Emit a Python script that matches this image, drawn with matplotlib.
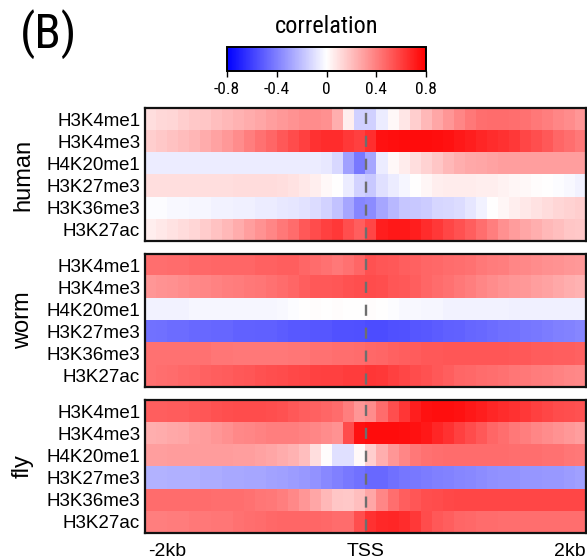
import matplotlib
matplotlib.use("Agg")
import matplotlib.pyplot as plt
import numpy as np
from matplotlib import font_manager
from matplotlib.colors import LinearSegmentedColormap, Normalize
from matplotlib.colorbar import ColorbarBase

plt.rcParams["font.family"] = ["Liberation Sans", "DejaVu Sans"]
plt.rcParams["lines.scale_dashes"] = False
available = {f.name for f in font_manager.fontManager.ttflist}
narrow = next((f for f in ["Liberation Sans Narrow", "DejaVu Sans Condensed",
                           "Roboto Condensed", "Open Sans Condensed"]
               if f in available), "Liberation Sans")

marks = ["H3K4me1", "H3K4me3", "H4K20me1", "H3K27me3", "H3K36me3", "H3K27ac"]
species = ["human", "worm", "fly"]
cbar_ticks = [-0.8, -0.4, 0, 0.4, 0.8]
cbar_ticklabels = ["-0.8", "-0.4", "0", "0.4", "0.8"]
x_labels = ["-2kb", "TSS", "2kb"]

# 40 bins from -2kb to +2kb around the TSS, one row per histone mark
human = [
    [0.10, 0.12, 0.13, 0.15, 0.17, 0.18, 0.20, 0.22, 0.24, 0.26, 0.28, 0.30, 0.32, 0.34, 0.36, 0.36, 0.35, 0.25, 0.05, -0.15,
     -0.15, -0.06, 0.02, 0.08, 0.15, 0.22, 0.28, 0.33, 0.38, 0.42, 0.45, 0.46, 0.46, 0.45, 0.44, 0.42, 0.40, 0.38, 0.36, 0.33],
    [0.15, 0.17, 0.19, 0.21, 0.23, 0.26, 0.29, 0.32, 0.36, 0.40, 0.44, 0.48, 0.52, 0.56, 0.60, 0.64, 0.66, 0.66, 0.62, 0.60,
     0.65, 0.74, 0.75, 0.76, 0.76, 0.76, 0.75, 0.74, 0.72, 0.70, 0.68, 0.66, 0.64, 0.62, 0.58, 0.55, 0.52, 0.48, 0.45, 0.42],
    [-0.06, -0.06, -0.06, -0.06, -0.06, -0.06, -0.06, -0.06, -0.06, -0.06, -0.06, -0.06, -0.06, -0.06, -0.06, -0.06, -0.07, -0.12, -0.30, -0.42,
     -0.28, -0.06, 0.02, 0.06, 0.10, 0.14, 0.18, 0.22, 0.25, 0.27, 0.28, 0.29, 0.30, 0.30, 0.30, 0.30, 0.30, 0.30, 0.30, 0.30],
    [0.10, 0.10, 0.10, 0.10, 0.10, 0.10, 0.10, 0.10, 0.11, 0.11, 0.11, 0.11, 0.10, 0.09, 0.07, 0.05, 0.02, 0.00, -0.06, -0.14,
     -0.17, -0.10, -0.06, -0.03, 0.00, 0.03, 0.05, 0.06, 0.06, 0.06, 0.05, 0.05, 0.04, 0.03, 0.02, 0.01, 0.00, -0.01, -0.02, -0.04],
    [-0.01, -0.01, -0.02, -0.02, -0.03, -0.03, -0.04, -0.04, -0.05, -0.05, -0.06, -0.06, -0.07, -0.08, -0.09, -0.11, -0.14, -0.19, -0.28, -0.38,
     -0.36, -0.28, -0.22, -0.18, -0.17, -0.16, -0.13, -0.12, -0.11, -0.08, -0.04, 0.00, 0.03, 0.05, 0.07, 0.09, 0.11, 0.13, 0.14, 0.15],
    [0.05, 0.07, 0.09, 0.11, 0.13, 0.16, 0.19, 0.22, 0.26, 0.30, 0.34, 0.38, 0.42, 0.46, 0.52, 0.56, 0.60, 0.62, 0.55, 0.50,
     0.58, 0.70, 0.72, 0.72, 0.70, 0.66, 0.62, 0.58, 0.54, 0.50, 0.45, 0.40, 0.35, 0.31, 0.28, 0.25, 0.22, 0.20, 0.18, 0.17],
]

worm = [
    [0.45, 0.45, 0.46, 0.46, 0.47, 0.47, 0.48, 0.48, 0.48, 0.48, 0.49, 0.49, 0.50, 0.50, 0.48, 0.46, 0.44, 0.42, 0.44, 0.48,
     0.54, 0.53, 0.52, 0.50, 0.49, 0.48, 0.47, 0.46, 0.45, 0.44, 0.42, 0.41, 0.40, 0.38, 0.37, 0.36, 0.35, 0.34, 0.33, 0.32],
    [0.33, 0.34, 0.35, 0.36, 0.37, 0.38, 0.39, 0.40, 0.41, 0.42, 0.43, 0.44, 0.46, 0.48, 0.50, 0.52, 0.52, 0.53, 0.54, 0.55,
     0.56, 0.55, 0.53, 0.52, 0.50, 0.48, 0.46, 0.44, 0.42, 0.40, 0.38, 0.36, 0.34, 0.33, 0.32, 0.30, 0.29, 0.27, 0.25, 0.24],
    [-0.04, -0.04, -0.04, -0.04, -0.03, -0.03, -0.03, -0.03, -0.03, -0.03, -0.03, -0.03, -0.02, -0.01, 0.00, 0.01, 0.00, 0.01, 0.00, 0.00,
     0.01, 0.00, -0.01, -0.02, -0.02, -0.03, -0.03, -0.04, -0.04, -0.04, -0.04, -0.04, -0.04, -0.05, -0.05, -0.05, -0.05, -0.05, -0.05, -0.05],
    [-0.44, -0.45, -0.46, -0.46, -0.47, -0.47, -0.48, -0.48, -0.49, -0.49, -0.50, -0.50, -0.51, -0.52, -0.52, -0.53, -0.53, -0.54, -0.54, -0.55,
     -0.56, -0.56, -0.55, -0.54, -0.53, -0.52, -0.51, -0.50, -0.49, -0.48, -0.47, -0.46, -0.45, -0.44, -0.43, -0.42, -0.41, -0.40, -0.39, -0.38],
    [0.44, 0.44, 0.44, 0.44, 0.44, 0.44, 0.43, 0.43, 0.42, 0.42, 0.42, 0.42, 0.42, 0.43, 0.43, 0.44, 0.44, 0.45, 0.45, 0.46,
     0.47, 0.48, 0.49, 0.50, 0.51, 0.52, 0.52, 0.53, 0.53, 0.53, 0.53, 0.53, 0.53, 0.52, 0.52, 0.51, 0.51, 0.50, 0.50, 0.49],
    [0.44, 0.45, 0.46, 0.47, 0.48, 0.49, 0.50, 0.51, 0.52, 0.53, 0.54, 0.55, 0.56, 0.57, 0.58, 0.59, 0.60, 0.60, 0.61, 0.61,
     0.63, 0.62, 0.60, 0.58, 0.56, 0.54, 0.52, 0.50, 0.48, 0.47, 0.46, 0.45, 0.44, 0.43, 0.42, 0.41, 0.40, 0.39, 0.38, 0.37],
]

fly = [
    [0.50, 0.50, 0.51, 0.51, 0.52, 0.53, 0.54, 0.55, 0.56, 0.56, 0.56, 0.55, 0.54, 0.52, 0.50, 0.49, 0.48, 0.46, 0.40, 0.33,
     0.36, 0.46, 0.55, 0.63, 0.70, 0.74, 0.75, 0.75, 0.74, 0.72, 0.70, 0.68, 0.66, 0.64, 0.62, 0.60, 0.58, 0.56, 0.55, 0.54],
    [0.25, 0.26, 0.27, 0.28, 0.30, 0.31, 0.33, 0.35, 0.37, 0.38, 0.39, 0.40, 0.40, 0.40, 0.39, 0.38, 0.36, 0.34, 0.56, 0.74,
     0.76, 0.76, 0.76, 0.75, 0.74, 0.72, 0.68, 0.64, 0.60, 0.56, 0.52, 0.48, 0.45, 0.42, 0.40, 0.38, 0.36, 0.34, 0.32, 0.30],
    [0.30, 0.30, 0.31, 0.31, 0.31, 0.31, 0.31, 0.31, 0.30, 0.30, 0.29, 0.28, 0.26, 0.24, 0.20, 0.10, 0.01, -0.10, -0.10, 0.02,
     0.15, 0.25, 0.33, 0.38, 0.42, 0.44, 0.45, 0.46, 0.46, 0.46, 0.46, 0.46, 0.46, 0.45, 0.45, 0.45, 0.44, 0.44, 0.43, 0.42],
    [-0.24, -0.24, -0.25, -0.25, -0.25, -0.26, -0.26, -0.27, -0.27, -0.28, -0.28, -0.29, -0.30, -0.31, -0.32, -0.34, -0.37, -0.40, -0.42, -0.44,
     -0.47, -0.47, -0.45, -0.43, -0.42, -0.41, -0.40, -0.39, -0.38, -0.37, -0.36, -0.35, -0.34, -0.34, -0.33, -0.33, -0.32, -0.32, -0.31, -0.30],
    [0.46, 0.46, 0.46, 0.46, 0.46, 0.46, 0.45, 0.45, 0.45, 0.44, 0.43, 0.42, 0.40, 0.37, 0.33, 0.28, 0.22, 0.18, 0.17, 0.20,
     0.28, 0.38, 0.45, 0.50, 0.53, 0.55, 0.56, 0.57, 0.58, 0.58, 0.58, 0.58, 0.58, 0.58, 0.58, 0.58, 0.58, 0.58, 0.58, 0.58],
    [0.40, 0.40, 0.41, 0.41, 0.42, 0.42, 0.43, 0.43, 0.44, 0.45, 0.46, 0.47, 0.48, 0.48, 0.48, 0.48, 0.47, 0.46, 0.46, 0.55,
     0.64, 0.67, 0.68, 0.66, 0.62, 0.56, 0.52, 0.50, 0.48, 0.47, 0.46, 0.46, 0.45, 0.45, 0.45, 0.45, 0.45, 0.45, 0.45, 0.45],
]

W, H = 587, 560
fig = plt.figure(figsize=(W / 100, H / 100), dpi=100)

cmap = LinearSegmentedColormap.from_list("bwr_lin", ["#0000ff", "#ffffff", "#ff0000"])
norm = Normalize(vmin=-0.8, vmax=0.8)


def px_axes(x0, y0, x1, y1):
    return fig.add_axes([x0 / W, 1 - y1 / H, (x1 - x0) / W, (y1 - y0) / H])


panel_box = [(108, 241), (254, 387), (400, 533)]
data = [human, worm, fly]

for name, mat, (top, bot) in zip(species, data, panel_box):
    ax = px_axes(145, top, 586, bot)
    arr = np.array(mat)
    ax.imshow(arr, cmap=cmap, norm=norm, aspect="auto", interpolation="nearest")
    ncol = arr.shape[1]
    tss = ncol / 2 - 0.5
    ax.plot([tss, tss], [-0.5, arr.shape[0] - 0.5], color="#6e6e6e", lw=1.7,
            linestyle=(13.0, (8, 8.5)), dash_capstyle="butt")
    ax.set_xlim(-0.5, ncol - 0.5)
    ax.set_ylim(arr.shape[0] - 0.5, -0.5)
    ax.set_xticks([])
    ax.set_yticks(range(len(marks)))
    ax.set_yticklabels(marks, fontsize=13.5)
    ax.tick_params(axis="y", length=0, pad=3.5)
    for s in ax.spines.values():
        s.set_linewidth(1.6)
        s.set_color("#111111")
    fig.text(23 / W, 1 - (top + bot) / 2 / H, name, rotation=90, fontsize=17,
             ha="center", va="center")

# position labels under the bottom panel
fig.text(148 / W, 1 - 552 / H, x_labels[0], fontsize=14, ha="left", va="center")
fig.text(366 / W, 1 - 552 / H, x_labels[1], fontsize=14, ha="center", va="center")
fig.text(586 / W, 1 - 552 / H, x_labels[2], fontsize=14, ha="right", va="center")

# colour key
cax = px_axes(227, 47, 426, 71)
cb = ColorbarBase(cax, cmap=cmap, norm=norm, orientation="horizontal", ticks=cbar_ticks)
cb.set_ticklabels(cbar_ticklabels)
cb.outline.set_linewidth(1.4)
cax.tick_params(axis="x", length=4, width=1, pad=4, labelsize=12.5)
for lab in cax.get_xticklabels():
    lab.set_family(narrow)
fig.text(327 / W, 1 - 33 / H, "correlation", fontsize=17.5, family=narrow,
         ha="center", va="baseline")

fig.text(20 / W, 1 - 48 / H, "(B)", fontsize=35, family=narrow, ha="left", va="baseline")

fig.savefig("out.png", dpi=100)
